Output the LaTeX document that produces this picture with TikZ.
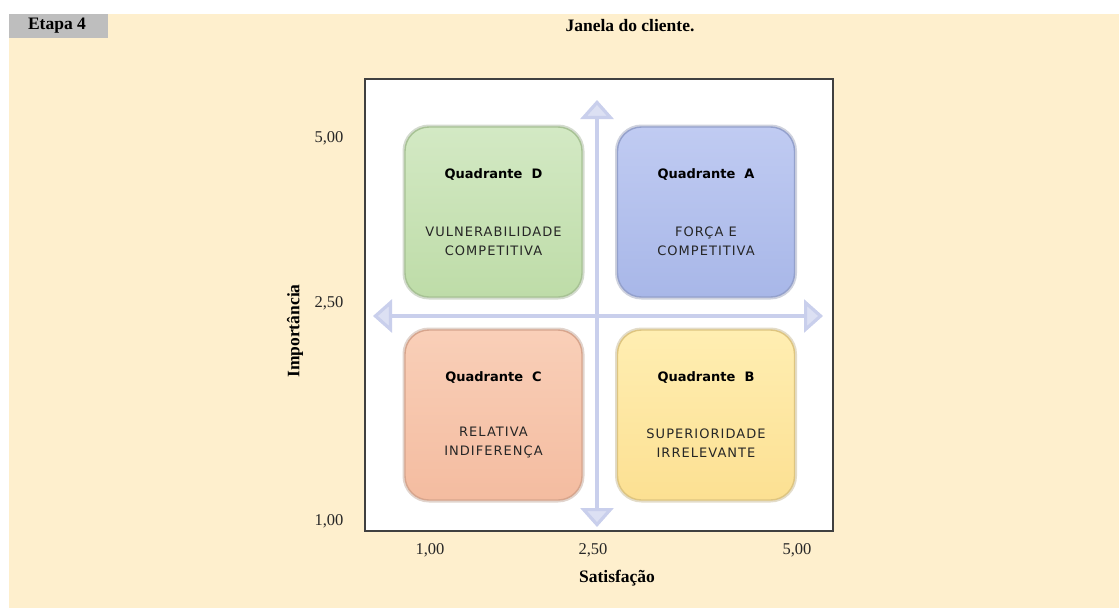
\documentclass[tikz,border=0pt]{standalone}
\usepackage{fontspec}
\setmainfont{Liberation Serif}
\newfontfamily\qfont{DejaVu Sans}
\newfontfamily\qspaced{DejaVu Sans}[LetterSpace=8]
\usetikzlibrary{arrows.meta}

\definecolor{cream}{HTML}{FEEFCD}
\definecolor{tabgray}{HTML}{BEBEBE}
\definecolor{axiscol}{HTML}{C9CFEC}
\definecolor{greenT}{HTML}{D3E9C4}
\definecolor{greenB}{HTML}{BEDCA8}
\definecolor{blueT}{HTML}{C0CBF2}
\definecolor{blueB}{HTML}{A8B7E8}
\definecolor{salmonT}{HTML}{F9CFB8}
\definecolor{salmonB}{HTML}{F4BCA0}
\definecolor{yellowT}{HTML}{FFEEB2}
\definecolor{yellowB}{HTML}{FCE092}

\tikzset{
  quad/.style={rounded corners=24pt, minimum width=177pt, minimum height=170pt,
    inner sep=0pt, line width=1.4pt},
  qglow/.style={rounded corners=25pt, minimum width=179pt, minimum height=172pt,
    inner sep=0pt, line width=3pt, draw opacity=0.35},
  qtitle/.style={font=\qfont\bfseries\fontsize{13}{15}\selectfont, text=black},
  qbody/.style={font=\qspaced\fontsize{13}{19}\selectfont, align=center, text=black!85},
  serif/.style={font=\fontsize{16.5}{19}\selectfont, text=black!85},
  serifbold/.style={font=\bfseries\fontsize{17.5}{20}\selectfont, text=black},
  axisarrow/.style={line width=3.2pt, draw=axiscol,
    {Triangle[width=33pt,length=19pt,fill=axiscol!65!white]}-{Triangle[width=33pt,length=19pt,fill=axiscol!65!white]}}
}

\begin{document}
\begin{tikzpicture}[x=1pt,y=-1pt]
  \useasboundingbox (0,0) rectangle (1119,608);
  \fill[white] (0,0) rectangle (1119,608);
  \fill[cream] (9,14) rectangle (1119,608);

  % header
  \fill[tabgray] (9,14) rectangle (108,38);
  \node[serifbold] (etapa) at (57,26) {Etapa 4};
  \node[serifbold] (title) at (630,26) {Janela do cliente.};

  % plot frame
  \node[draw=black!75, fill=white, line width=1.2pt, minimum width=468pt,
        minimum height=452pt, inner sep=0pt] (frame) at (599,305) {};

  % soft halo round each quadrant
  \node[qglow, draw=greenB!70!black] (gD) at (493.5,212) {};
  \node[qglow, draw=blueB!70!black] (gA) at (706,212) {};
  \node[qglow, draw=salmonB!70!black] (gC) at (493.5,415) {};
  \node[qglow, draw=yellowB!70!black] (gB) at (706,415) {};

  % quadrants
  \node[quad, top color=greenT, bottom color=greenB, draw=greenB!88!black] (qD) at (493.5,212) {};
  \node[quad, top color=blueT, bottom color=blueB, draw=blueB!88!black] (qA) at (706,212) {};
  \node[quad, top color=salmonT, bottom color=salmonB, draw=salmonB!88!black] (qC) at (493.5,415) {};
  \node[quad, top color=yellowT, bottom color=yellowB, draw=yellowB!88!black] (qB) at (706,415) {};

  % axes through the middle
  \coordinate (vtop) at (597,100);
  \coordinate (vbot) at (597,527);
  \coordinate (hleft) at (373,316);
  \coordinate (hright) at (823,316);
  \draw[axisarrow] (vbot) -- (vtop);
  \draw[axisarrow] (hleft) -- (hright);

  % quadrant texts
  \node[qtitle] (tD) at ([yshift=37pt]qD.center) {Quadrante\ \ D};
  \node[qbody]  (bD) at ([yshift=-29pt]qD.center) {VULNERABILIDADE\\COMPETITIVA};
  \node[qtitle] (tA) at ([yshift=37pt]qA.center) {Quadrante\ \ A};
  \node[qbody]  (bA) at ([yshift=-29pt]qA.center) {FORÇA E\\COMPETITIVA};
  \node[qtitle] (tC) at ([yshift=37pt]qC.center) {Quadrante\ \ C};
  \node[qbody]  (bC) at ([yshift=-28pt]qC.center) {RELATIVA\\INDIFERENÇA};
  \node[qtitle] (tB) at ([yshift=37pt]qB.center) {Quadrante\ \ B};
  \node[qbody]  (bB) at ([yshift=-28pt]qB.center) {SUPERIORIDADE\\IRRELEVANTE};

  % y axis
  \node[serif] (y5) at (329,138) {5,00};
  \node[serif] (y25) at (329,303) {2,50};
  \node[serif] (y1) at (329,521) {1,00};
  \node[serifbold, rotate=90] (ylab) at (295,331) {Importância};

  % x axis
  \node[serif] (x1) at (430,550) {1,00};
  \node[serif] (x25) at (593,550) {2,50};
  \node[serif] (x5) at (797,550) {5,00};
  \node[serifbold] (xlab) at (617,578) {Satisfação};
\end{tikzpicture}
\end{document}
